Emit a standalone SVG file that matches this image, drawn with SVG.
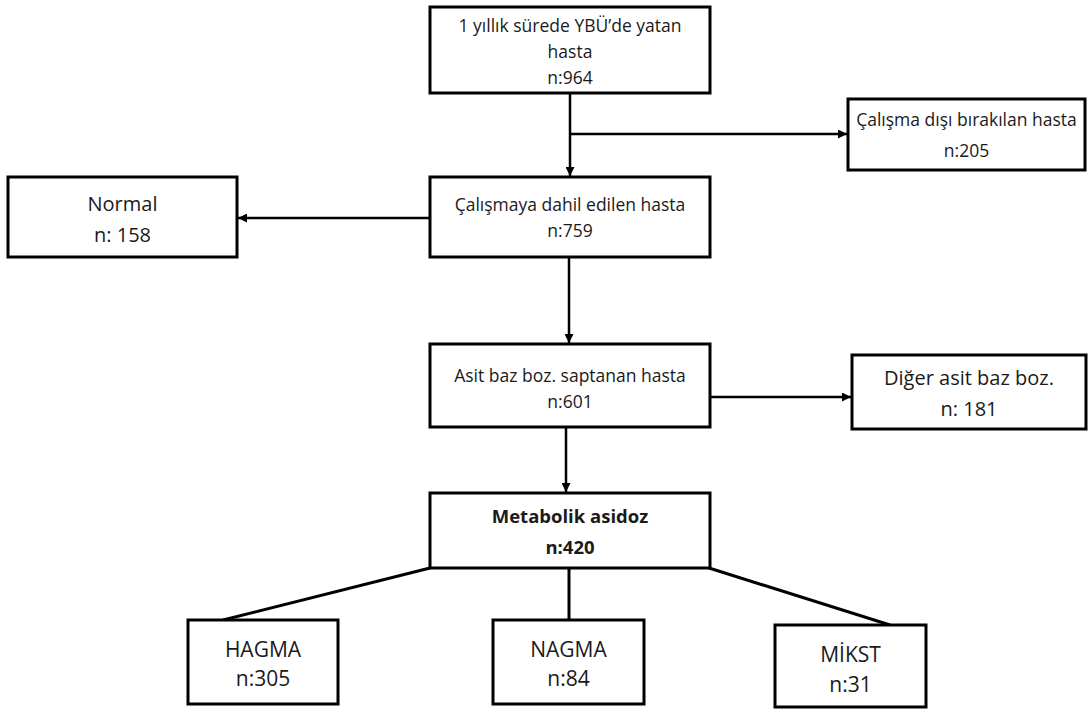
<svg xmlns="http://www.w3.org/2000/svg" width="1089" height="709" viewBox="0 0 1089 709">
<style>
.box{fill:#fff;stroke:#000;stroke-width:3}
.t{font-family:"Open Sans","DejaVu Sans",sans-serif;fill:#1a1a1a;text-anchor:middle}
.s{font-size:17.5px}
.m{font-size:20px}
.l{font-size:21px}
.b{font-size:18.5px;font-weight:bold}
.c{stroke:#000;stroke-width:2.5;fill:none}
.c3{stroke:#000;stroke-width:3;fill:none}
</style>
<defs>
<marker id="ah" viewBox="0 0 10 10" refX="10" refY="5" markerWidth="9" markerHeight="9" markerUnits="userSpaceOnUse" orient="auto"><path d="M0,0 L10,5 L0,10 z" fill="#000"/></marker>
</defs>
<rect width="1089" height="709" fill="#fff"/>
<g id="connectors">
<line class="c" x1="570" y1="93" x2="570" y2="176" marker-end="url(#ah)"/>
<line class="c" x1="570" y1="134" x2="847" y2="134" marker-end="url(#ah)"/>
<line class="c" x1="430" y1="218" x2="238" y2="218" marker-end="url(#ah)"/>
<line class="c" x1="569" y1="257" x2="569" y2="343" marker-end="url(#ah)"/>
<line class="c" x1="710" y1="397" x2="851" y2="397" marker-end="url(#ah)"/>
<line class="c" x1="566" y1="427" x2="566" y2="492" marker-end="url(#ah)"/>
<line class="c3" x1="430" y1="568" x2="223" y2="620"/>
<line class="c3" x1="569" y1="568" x2="569" y2="620"/>
<line class="c3" x1="709" y1="568" x2="890" y2="625"/>
</g>
<g id="n1">
<rect class="box" x="430" y="7" width="280" height="86"/>
<text class="t s" x="570" y="32">1 yıllık sürede YBÜ’de yatan</text>
<text class="t s" x="570" y="58">hasta</text>
<text class="t s" x="570" y="84">n:964</text>
</g>
<g id="n2">
<rect class="box" x="848" y="99" width="237" height="71"/>
<text class="t s" x="966.5" y="126">Çalışma dışı bırakılan hasta</text>
<text class="t s" x="966.5" y="157">n:205</text>
</g>
<g id="n3">
<rect class="box" x="430" y="177" width="280" height="80"/>
<text class="t s" x="570" y="211">Çalışmaya dahil edilen hasta</text>
<text class="t s" x="570" y="237">n:759</text>
</g>
<g id="n4">
<rect class="box" x="8" y="177" width="229" height="80"/>
<text class="t m" x="122.5" y="211">Normal</text>
<text class="t m" x="122.5" y="242">n: 158</text>
</g>
<g id="n5">
<rect class="box" x="430" y="344" width="280" height="83"/>
<text class="t s" x="570" y="382">Asit baz boz. saptanan hasta</text>
<text class="t s" x="570" y="408">n:601</text>
</g>
<g id="n6">
<rect class="box" x="852" y="355" width="234" height="74"/>
<text class="t m" x="969" y="385">Diğer asit baz boz.</text>
<text class="t m" x="969" y="416">n: 181</text>
</g>
<g id="n7">
<rect class="box" x="430" y="493" width="280" height="75"/>
<text class="t b" x="570" y="523">Metabolik asidoz</text>
<text class="t b" x="570" y="554">n:420</text>
</g>
<g id="n8">
<rect class="box" x="188" y="620" width="150" height="84"/>
<text class="t l" x="263" y="657">HAGMA</text>
<text class="t l" x="263" y="686">n:305</text>
</g>
<g id="n9">
<rect class="box" x="493" y="620" width="151" height="84"/>
<text class="t l" x="568.5" y="657">NAGMA</text>
<text class="t l" x="568.5" y="686">n:84</text>
</g>
<g id="n10">
<rect class="box" x="775" y="625" width="151" height="82"/>
<text class="t l" x="850.5" y="662">MİKST</text>
<text class="t l" x="850.5" y="692">n:31</text>
</g>
</svg>
